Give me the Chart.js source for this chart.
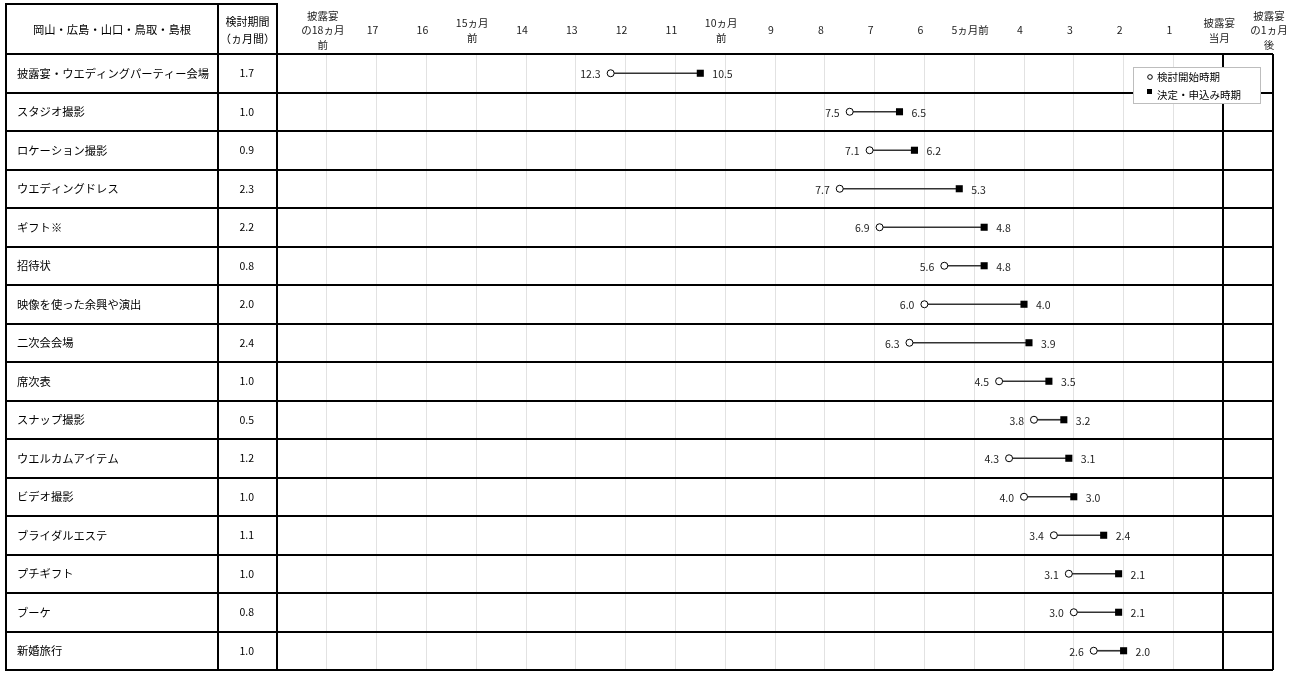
<!DOCTYPE html>
<html lang="ja">
<head>
<meta charset="utf-8">
<title>検討開始時期と決定・申込み時期</title>
<script src="https://cdn.jsdelivr.net/npm/chart.js@4.4.1/dist/chart.umd.min.js"></script>
<style>
  html, body { margin: 0; padding: 0; background: #fff; }
  #wrap { width: 1304px; height: 675px; }
</style>
</head>
<body>
<div id="wrap"><canvas id="myChart"></canvas></div>
<script>
const items = [
  "披露宴・ウエディングパーティー会場", "スタジオ撮影", "ロケーション撮影", "ウエディングドレス",
  "ギフト※", "招待状", "映像を使った余興や演出", "二次会会場", "席次表", "スナップ撮影",
  "ウエルカムアイテム", "ビデオ撮影", "ブライダルエステ", "プチギフト", "ブーケ", "新婚旅行",
];
const periods = [1.7, 1.0, 0.9, 2.3, 2.2, 0.8, 2.0, 2.4, 1.0, 0.5, 1.2, 1.0, 1.1, 1.0, 0.8, 1.0];
const startMonths = [12.3, 7.5, 7.1, 7.7, 6.9, 5.6, 6.0, 6.3, 4.5, 3.8, 4.3, 4.0, 3.4, 3.1, 3.0, 2.6];
const decideMonths = [10.5, 6.5, 6.2, 5.3, 4.8, 4.8, 4.0, 3.9, 3.5, 3.2, 3.1, 3.0, 2.4, 2.1, 2.1, 2.0];

// tick labels for months 18 .. -1 (before the party -> after)
const monthLabels = [
  ["披露宴", "の18ヵ月", "前"], "17", "16", ["15ヵ月", "前"], "14", "13", "12", "11",
  ["10ヵ月", "前"], "9", "8", "7", "6", "5ヵ月前", "4", "3", "2", "1",
  ["披露宴", "当月"], ["披露宴", "の1ヵ月", "後"],
];
const headerRegion = "岡山・広島・山口・鳥取・島根";
const headerPeriod = ["検討期間", "（ヵ月間）"];
const seriesNames = ["検討開始時期", "決定・申込み時期"];

const FONT = '"Noto Sans CJK JP", "Noto Sans", sans-serif';

// keep the row band flush with the bottom of the table
const noEdgePadding = (s, w) => {
  s.width = w;
  s.paddingTop = 0;
  s.paddingBottom = 0;
};

const tablePlugin = {
  id: "table",
  afterDatasetsDraw(chart) {
    const ctx = chart.ctx;
    ctx.save();
    ctx.font = "10.5px " + FONT;
    ctx.fillStyle = "#222";
    ctx.textBaseline = "middle";
    chart.getDatasetMeta(0).data.forEach((p, i) => {
      ctx.textAlign = "right";
      ctx.fillText(startMonths[i].toFixed(1), p.x - 10, p.y + 1);
    });
    chart.getDatasetMeta(1).data.forEach((p, i) => {
      ctx.textAlign = "left";
      ctx.fillText(decideMonths[i].toFixed(1), p.x + 12, p.y + 1);
    });
    ctx.restore();
  },
  afterDraw(chart) {
    const { ctx, chartArea: a } = chart;
    const y2 = chart.scales.y2;
    const top = 4, left = 6;
    ctx.save();
    ctx.strokeStyle = "#000";
    ctx.lineWidth = 2;
    ctx.beginPath();
    ctx.moveTo(left, top); ctx.lineTo(a.left, top);
    [left, y2.left, a.left].forEach((xx) => {
      ctx.moveTo(xx, top - 1); ctx.lineTo(xx, a.bottom + 1);
    });
    ctx.stroke();

    // header titles
    ctx.fillStyle = "#000";
    ctx.textAlign = "center";
    ctx.textBaseline = "middle";
    ctx.font = "11.3px " + FONT;
    ctx.fillText(headerRegion, (left + y2.left) / 2, 30);
    ctx.font = "11px " + FONT;
    ctx.fillText(headerPeriod[0], (y2.left + a.left) / 2, 22);
    ctx.fillText(headerPeriod[1], (y2.left + a.left) / 2, 39);

    // legend box
    const lx = a.right - 140, ly = a.top + 13;
    ctx.fillStyle = "#fff";
    ctx.fillRect(lx, ly, 127, 36);
    ctx.strokeStyle = "#bdbdbd";
    ctx.lineWidth = 1;
    ctx.strokeRect(lx + 0.5, ly + 0.5, 127, 36);
    ctx.strokeStyle = "#000";
    ctx.fillStyle = "#fff";
    ctx.beginPath();
    ctx.arc(lx + 17, ly + 10, 2.3, 0, Math.PI * 2);
    ctx.fill(); ctx.stroke();
    ctx.fillStyle = "#000";
    ctx.fillRect(lx + 14, ly + 22, 5, 5);
    ctx.font = "10.5px " + FONT;
    ctx.textAlign = "left";
    ctx.fillText(seriesNames[0], lx + 24, ly + 10);
    ctx.fillText(seriesNames[1], lx + 24, ly + 28);
    ctx.restore();
  },
};

new Chart(document.getElementById("myChart"), {
  type: "bar",
  data: {
    labels: items,
    datasets: [
      {
        type: "scatter",
        label: seriesNames[0],
        data: startMonths.map((v, i) => ({ x: v, y: items[i] })),
        xAxisID: "x",
        yAxisID: "y",
        pointStyle: "circle",
        pointRadius: 3.5,
        backgroundColor: "#fff",
        borderColor: "#000",
        borderWidth: 1,
        order: 0,
      },
      {
        type: "scatter",
        label: seriesNames[1],
        data: decideMonths.map((v, i) => ({ x: v, y: items[i] })),
        xAxisID: "x",
        yAxisID: "y",
        pointStyle: "rect",
        pointRadius: 5,
        backgroundColor: "#000",
        borderColor: "#000",
        borderWidth: 0,
        order: 1,
      },
      {
        type: "bar",
        label: "期間",
        data: startMonths.map((v, i) => [decideMonths[i], v]),
        xAxisID: "x",
        yAxisID: "y",
        backgroundColor: "#333",
        barThickness: 1,
        order: 3,
      },
    ],
  },
  options: {
    indexAxis: "y",
    responsive: true,
    maintainAspectRatio: false,
    animation: false,
    layout: { padding: { left: 17, top: 0, right: 31, bottom: 1 } },
    scales: {
      x: {
        type: "linear",
        position: "top",
        reverse: true,
        min: -1,
        max: 19,
        afterFit: (s) => { s.height = 54; },
        border: { display: false },
        grid: {
          drawTicks: false,
          color: (c) => ([0, -1, 19].includes(c.tick && c.tick.value) ? "#000" : "#e2e2e2"),
          lineWidth: (c) => ([0, -1, 19].includes(c.tick && c.tick.value) ? 2 : 1),
        },
        ticks: {
          stepSize: 1,
          autoSkip: false,
          maxRotation: 0,
          minRotation: 0,
          crossAlign: "center",
          padding: 9,
          labelOffset: -4,
          color: "#222",
          font: { family: FONT, size: 10.5, lineHeight: 1.4 },
          callback: (v) => (v > 18 ? "" : monthLabels[18 - v]),
        },
      },
      y: {
        type: "category",
        position: "left",
        weight: 2,
        offset: true,
        afterFit: (s) => noEdgePadding(s, 201),
        border: { display: false },
        grid: { offset: true, color: "#000", lineWidth: 2, tickLength: 212 },
        ticks: {
          crossAlign: "far",
          padding: 0,
          color: "#000",
          font: { family: FONT, size: 11.3, lineHeight: 0.2 },
        },
      },
      y2: {
        type: "category",
        axis: "y",
        position: "left",
        weight: 1,
        offset: true,
        labels: periods.map((v) => v.toFixed(1)),
        afterFit: (s) => noEdgePadding(s, 59),
        border: { display: false },
        grid: { offset: true, drawOnChartArea: false, color: "#000", lineWidth: 2, tickLength: 59 },
        ticks: {
          crossAlign: "center",
          padding: -36,
          color: "#000",
          font: { family: FONT, size: 10.5, lineHeight: 0.2 },
        },
      },
    },
    plugins: {
      legend: { display: false },
      tooltip: { enabled: false },
    },
  },
  plugins: [tablePlugin],
});
</script>
</body>
</html>
